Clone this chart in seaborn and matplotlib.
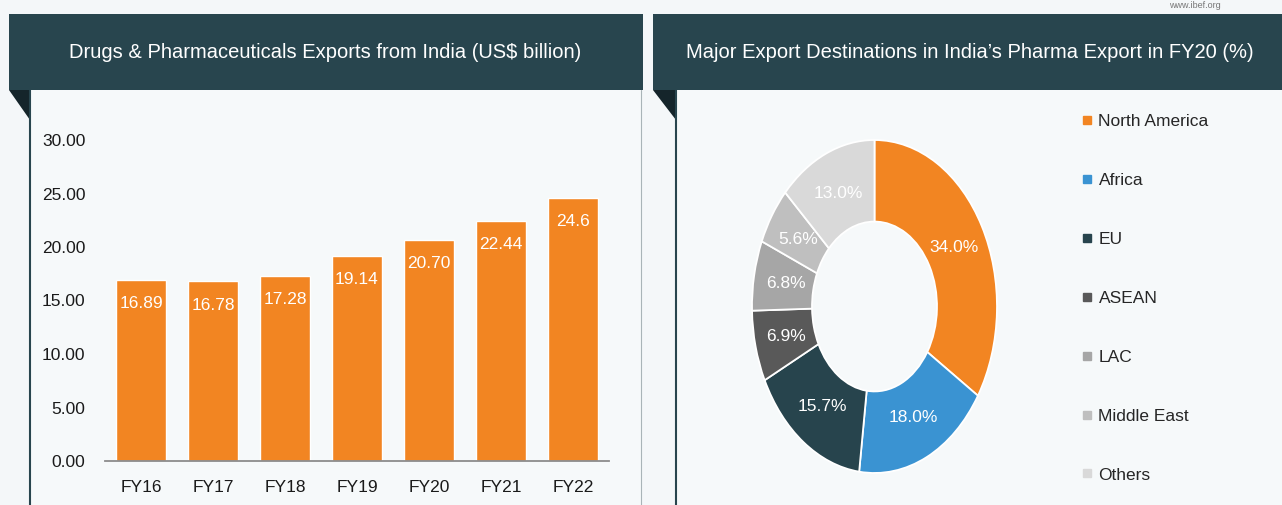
import matplotlib
matplotlib.use('Agg')
import matplotlib.pyplot as plt
from matplotlib.patches import Rectangle, Polygon
from matplotlib.lines import Line2D
from matplotlib.ticker import FixedLocator
import seaborn as sns
import pandas as pd

# data
years = ['FY16', 'FY17', 'FY18', 'FY19', 'FY20', 'FY21', 'FY22']
exports = [16.89, 16.78, 17.28, 19.14, 20.70, 22.44, 24.6]
export_labels = ['16.89', '16.78', '17.28', '19.14', '20.70', '22.44', '24.6']
y_ticks = [0, 5, 10, 15, 20, 25, 30]

regions = ['North America', 'Africa', 'EU', 'ASEAN', 'LAC', 'Middle East', 'Others']
shares = [34.0, 18.0, 15.7, 6.9, 6.8, 5.6, 13.0]
region_colors = ['#f28522', '#3a93d2', '#27444d', '#595959', '#a6a6a6', '#bfbfbf', '#d9d9d9']

title_left = 'Drugs & Pharmaceuticals Exports from India (US$ billion)'
title_right = 'Major Export Destinations in India\u2019s Pharma Export in FY20 (%)'

ORANGE = '#f28522'
HEAD = '#28454e'
BG = '#f4f7f9'
BODY = '#f6f9fa'
FS = 12.5

sns.set_style('white')
plt.rcParams['font.family'] = ['Liberation Sans Narrow', 'Liberation Sans', 'DejaVu Sans']

W, H = 1282, 505
fig = plt.figure(figsize=(W / 100, H / 100), dpi=100)
fig.patch.set_facecolor(BG)


def px(x0, y0, x1, y1):
    # pixel box (origin top-left) -> figure rect
    return [x0 / W, 1 - y1 / H, (x1 - x0) / W, (y1 - y0) / H]


# panel decoration in pixel coordinates
bg = fig.add_axes([0, 0, 1, 1], zorder=0)
bg.set_xlim(0, W)
bg.set_ylim(H, 0)
bg.axis('off')
bg.add_patch(Rectangle((30, 90), 612, 420, fc=BODY, ec='none'))
bg.add_patch(Rectangle((676, 90), 620, 420, fc=BODY, ec='none'))
bg.add_patch(Rectangle((9, 14), 634, 76, fc=HEAD, ec='none'))
bg.add_patch(Rectangle((653, 14), 640, 76, fc=HEAD, ec='none'))
bg.add_patch(Polygon([(9, 90), (30, 90), (30, 120)], fc='#15252b', ec='none'))
bg.add_patch(Polygon([(653, 90), (676, 90), (676, 120)], fc='#15252b', ec='none'))
bg.plot([30, 30], [90, 505], color=HEAD, lw=1.5)
bg.plot([676, 676], [90, 505], color=HEAD, lw=1.5)
bg.plot([641, 641], [90, 505], color='#a9b4b8', lw=0.8)
bg.text(325, 52, title_left, color='white', fontsize=14.5, ha='center', va='center')
bg.text(970, 52, title_right, color='white', fontsize=14.5, ha='center', va='center')
bg.text(1195, 1, 'www.ibef.org', color='#777777', fontsize=6.5, ha='center', va='top')

# bar chart
ax = fig.add_axes(px(105, 140, 609, 461), zorder=1)
ax.patch.set_alpha(0)
df = pd.DataFrame({'year': years, 'value': exports})
sns.barplot(data=df, x='year', y='value', color=ORANGE, saturation=1, width=0.69, ax=ax)
ax.set_xlim(-0.5, len(years) - 0.5)
ax.set_ylim(0, 30)
ax.set_yticks(y_ticks)
ax.set_yticklabels([f'{t:.2f}' for t in y_ticks])
ax.set_xlabel('')
ax.set_ylabel('')
for s in ['left', 'top', 'right']:
    ax.spines[s].set_visible(False)
ax.spines['bottom'].set_color('#8c8c8c')
ax.spines['bottom'].set_linewidth(1.3)
ax.xaxis.set_minor_locator(FixedLocator([i - 0.5 for i in range(len(years) + 1)]))
ax.tick_params(axis='x', which='minor', length=5, color='#8c8c8c', width=1.2, direction='out')
ax.tick_params(axis='x', which='major', length=0, pad=14, labelsize=FS, labelcolor='#1a1a1a')
ax.tick_params(axis='y', length=0, pad=14, labelsize=FS, labelcolor='#1a1a1a')
for i, (v, lab) in enumerate(zip(exports, export_labels)):
    ax.annotate(lab, (i, v), xytext=(0, -17), textcoords='offset points',
                ha='center', va='center', color='white', fontsize=FS)

# donut chart
ax2 = fig.add_axes(px(752, 140, 997, 473), zorder=1)
wedges, _, autotexts = ax2.pie(
    shares, colors=region_colors, startangle=90, counterclock=False,
    wedgeprops=dict(width=0.49, edgecolor='white', linewidth=1.3),
    autopct='%.1f%%', pctdistance=0.74,
    textprops=dict(color='white', fontsize=FS))
ax2.set_aspect('auto')
ax2.set_xlim(-1, 1)
ax2.set_ylim(-1, 1)

handles = [Line2D([], [], marker='s', ls='', color=c, markersize=5.5) for c in region_colors]
fig.legend(handles, regions, loc='upper left', bbox_to_anchor=(1082 / W, 1 - 114 / H),
           frameon=False, fontsize=FS, labelspacing=2.52, handlelength=0.6,
           handletextpad=0.35, borderaxespad=0, borderpad=0)

fig.savefig('out.png', dpi=100, facecolor=BG)
